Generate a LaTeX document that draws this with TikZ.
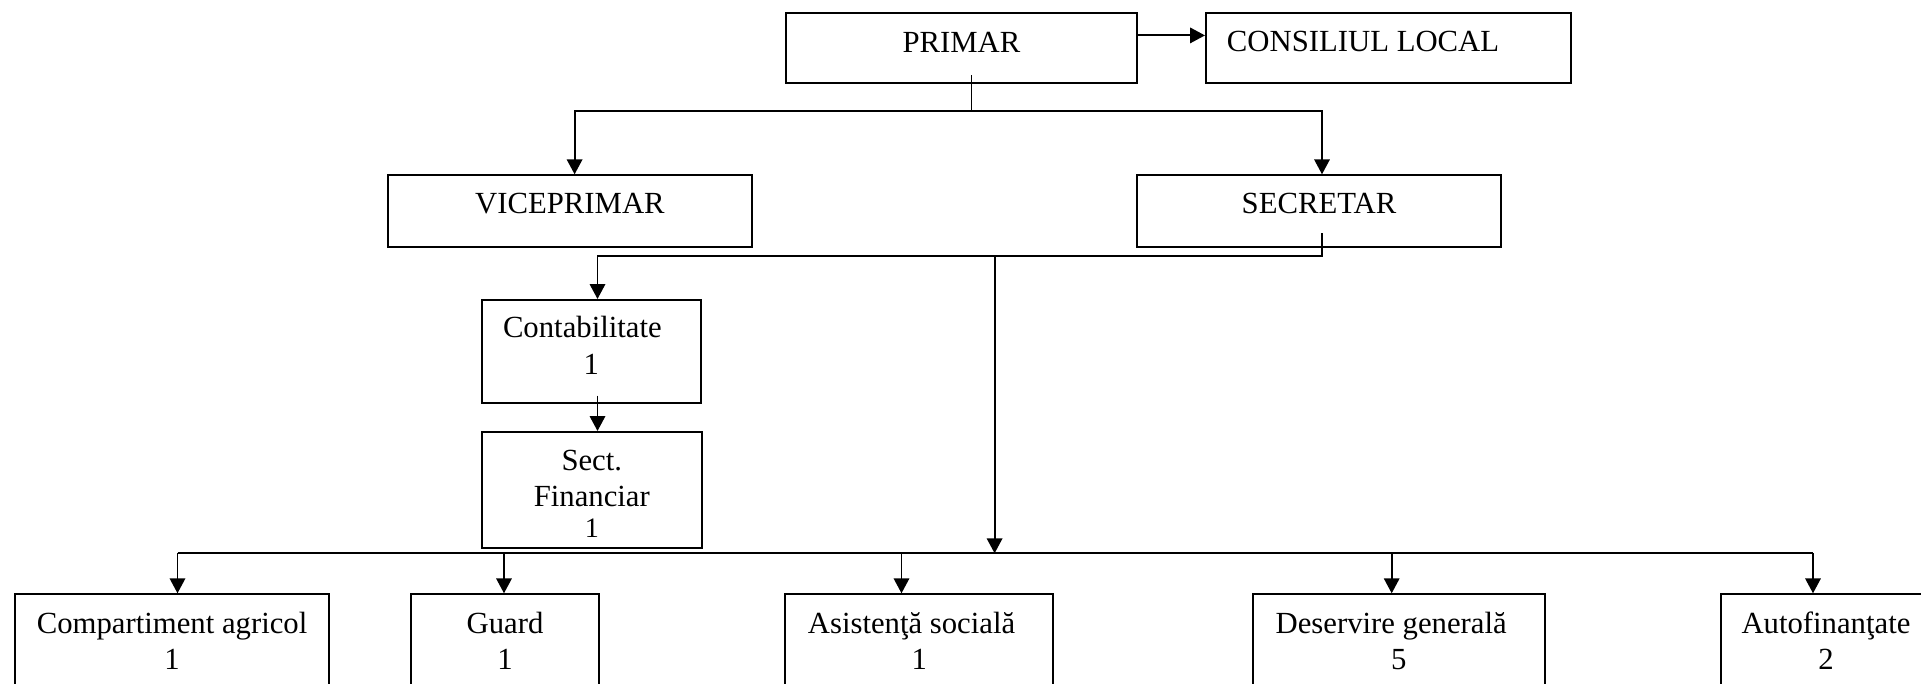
\documentclass[tikz,border=0pt]{standalone}
\usepackage{fontspec}
\setmainfont{Liberation Serif}
\usetikzlibrary{arrows.meta}
\newcommand\orgbox[4]{\parbox[t][#2][t]{#1}{\centering\vspace*{#3}\strut #4\par}}
\begin{document}
\begin{tikzpicture}[x=0.390625pt,y=-0.390625pt,
  box/.style={draw, line width=0.75pt, inner sep=0pt, anchor=north west, font=\fontsize{12pt}{14pt}\selectfont},
  arr/.style={line width=0.75pt, -{Triangle[length=5.8pt,width=6pt]}},
  ln/.style={line width=0.75pt}]
\useasboundingbox (0,0) rectangle (1921,684);
\clip (0,0) rectangle (1921,684);
\fill[white] (0,0) rectangle (1921,684);

% boxes
\node[box] (primar) at (785,12.3) {\orgbox{137.11pt}{27.11pt}{5.5pt}{PRIMAR}};
\node[box] (consiliu) at (1205,12.3) {\parbox[t][27.11pt][t]{142.58pt}{\raggedright\vspace*{5.2pt}\strut\hspace*{8.2pt}CONSILIUL LOCAL\par}};
\node[box] (vice) at (387,174.3) {\orgbox{142.19pt}{28.01pt}{5.3pt}{VICEPRIMAR}};
\node[box] (secretar) at (1136,174.3) {\orgbox{142.19pt}{28.01pt}{5.3pt}{SECRETAR}};
\node[box] (contab) at (480.7,299) {\orgbox{85.66pt}{40.35pt}{4.9pt}{Contabilitate\kern7pt\\[0.3pt]1}};
\node[box] (sectfin) at (480.7,431) {\orgbox{86.05pt}{45.43pt}{5.4pt}{Sect.\\Financiar\\[-2pt]{\fontsize{11pt}{12pt}\selectfont 1}}};
\node[box] (comp) at (14,593.3) {\orgbox{122.77pt}{50.78pt}{5.6pt}{Compartiment agricol\\1}};
\node[box] (guard) at (410.4,593.3) {\orgbox{73.16pt}{50.78pt}{5.6pt}{Guard\\1}};
\node[box] (asist) at (784.3,593.3) {\orgbox{104.69pt}{50.78pt}{5.6pt}{Asistenţă socială\kern6pt\\1}};
\node[box] (deserv) at (1251.8,593.3) {\orgbox{114.14pt}{50.78pt}{5.6pt}{Deservire generală\kern6pt\\5}};
\node[box] (auto) at (1720,593.3) {\orgbox{82.03pt}{50.78pt}{5.6pt}{Autofinanţate\\2}};

% PRIMAR level
\draw[arr] ([yshift=4.9pt]primar.east) -- ([yshift=4.9pt]consiliu.west);
\coordinate (p0) at (971.5,75);
\coordinate (j1) at (971.5,111);
\coordinate (v1) at (574.6,111);
\coordinate (s1) at (1322,111);
\draw[ln] (p0) -- (j1);
\draw[arr] (j1) -- (v1) -- (v1 |- vice.north);
\draw[arr] (j1) -- (s1) -- (s1 |- secretar.north);

% SECRETAR level
\coordinate (s2) at (1322,233);
\coordinate (j2) at (1322,256);
\coordinate (c1) at (597.5,256);
\coordinate (m1) at (994.6,256);
\coordinate (b0) at (994.6,553.3);
\draw[ln] (s2) -- (j2) -- (m1);
\draw[arr] (m1) -- (c1) -- (c1 |- contab.north);
\draw[arr] (m1) -- (b0);
\coordinate (c2) at (597.5,395.7);
\draw[arr] (c2) -- (c2 |- sectfin.north);

% bottom bus
\coordinate (bL) at (177.5,553.3);
\coordinate (bG) at (504,553.3);
\coordinate (bA) at (901.5,553.3);
\coordinate (bD) at (1391.7,553.3);
\coordinate (bR) at (1813,553.3);
\draw[ln] (bL) -- (bR);
\draw[arr] (bL) -- (bL |- comp.north);
\draw[arr] (bG) -- (bG |- guard.north);
\draw[arr] (bA) -- (bA |- asist.north);
\draw[arr] (bD) -- (bD |- deserv.north);
\draw[arr] (bR) -- (bR |- auto.north);
\end{tikzpicture}
\end{document}
